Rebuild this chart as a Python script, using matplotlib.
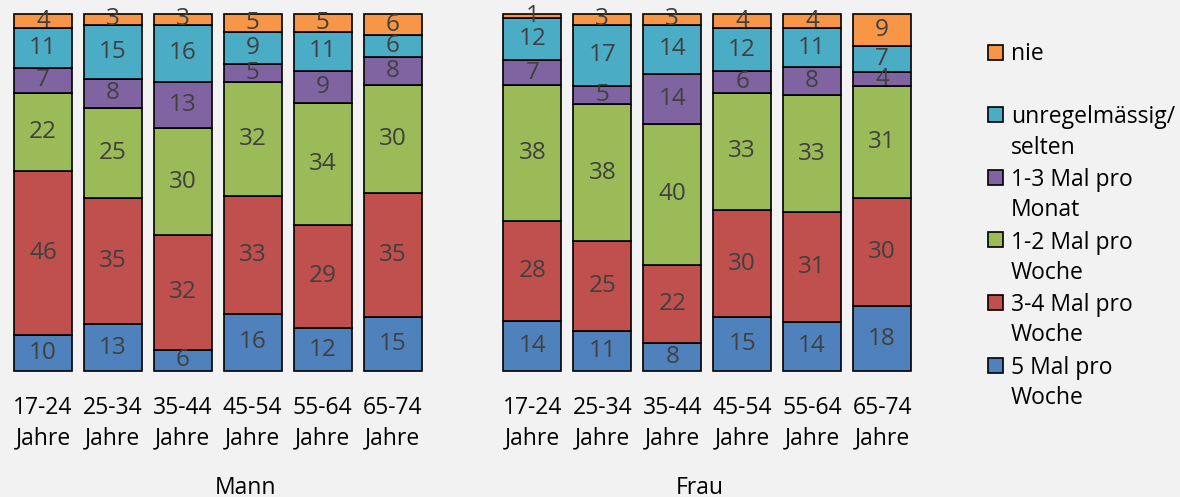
import numpy as np
import matplotlib
matplotlib.use('Agg')
import matplotlib.pyplot as plt
import matplotlib.transforms as mtransforms
from matplotlib.patches import Rectangle

plt.rcParams['font.family'] = ['Open Sans', 'DejaVu Sans']

ages = ['17-24', '25-34', '35-44', '45-54', '55-64', '65-74']
groups = ['Mann', 'Frau']
series = ['5 Mal pro\nWoche', '3-4 Mal pro\nWoche', '1-2 Mal pro\nWoche',
          '1-3 Mal pro\nMonat', 'unregelmässig/\nselten', 'nie']
colors = ['#4f81bd', '#c0504d', '#9bbb59', '#8064a2', '#4bacc6', '#f79646']

# Mann 17-24 .. 65-74, then Frau 17-24 .. 65-74
mal5 = [10, 13, 6, 16, 12, 15, 14, 11, 8, 15, 14, 18]
mal34 = [46, 35, 32, 33, 29, 35, 28, 25, 22, 30, 31, 30]
mal12 = [22, 25, 30, 32, 34, 30, 38, 38, 40, 33, 33, 31]
monat = [7, 8, 13, 5, 9, 8, 7, 5, 14, 6, 8, 4]
selten = [11, 15, 16, 9, 11, 6, 12, 17, 14, 12, 11, 7]
nie = [4, 3, 3, 5, 5, 6, 1, 3, 3, 4, 4, 9]

values = np.array([mal5, mal34, mal12, monat, selten, nie], dtype=float)
share = values / values.sum(axis=0)   # 100% stacked

x = np.r_[np.arange(6), np.arange(7, 13)]
W, H = 1180, 497
fs = 16.5
bg = '#f2f2f2'

fig = plt.figure(figsize=(W / 100, H / 100), dpi=100, facecolor=bg)
ax = fig.add_axes([1 / W, 126 / H, 923 / W, 357 / H])
ax.set_facecolor(bg)

bottom = np.zeros(len(x))
for i in range(len(series)):
    bars = ax.bar(x, share[i], 0.83, bottom=bottom, color=colors[i],
                  edgecolor='black', linewidth=1.2, clip_on=False)
    ax.bar_label(bars, labels=[str(int(v)) for v in values[i]], label_type='center',
                 color='#404040', fontsize=17.5)
    bottom += share[i]

ax.set_xlim(-0.6, 12.6)
ax.set_ylim(0, 1)
for s in ax.spines.values():
    s.set_visible(False)
ax.set_yticks([])
ax.set_xticks(x, [a + '\nJahre' for a in ages * 2], fontsize=fs)
ax.tick_params(axis='x', length=0, pad=18)
for lab in ax.get_xticklabels():
    lab.set_linespacing(1.35)

trans = mtransforms.blended_transform_factory(ax.transData, fig.transFigure)
ax.text(2.9, 3 / H, groups[0], transform=trans, ha='center', va='baseline', fontsize=fs)
ax.text(9.4, 3 / H, groups[1], transform=trans, ha='center', va='baseline', fontsize=fs)

# legend, top entry first, two text lines per entry
for k, i in enumerate(range(len(series) - 1, -1, -1)):
    yc = 52 + 62.6 * k
    nlines = series[i].count('\n') + 1
    fig.add_artist(Rectangle((988 / W, 1 - (yc + 7.5) / H), 15 / W, 15 / H,
                             transform=fig.transFigure, facecolor=colors[i],
                             edgecolor='black', linewidth=1.2))
    fig.text(1011 / W, 1 - (yc + 8 + 31 * (nlines - 1)) / H, series[i],
             ha='left', va='baseline', fontsize=fs, linespacing=1.35)

fig.savefig('out.png', dpi=100, facecolor=bg)
